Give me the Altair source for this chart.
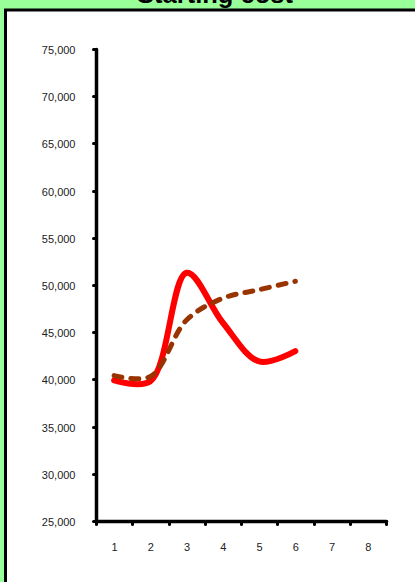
import altair as alt
import pandas as pd

title_text = "Starting cost"
categories = [1, 2, 3, 4, 5, 6, 7, 8]
periods = [1, 2, 3, 4, 5, 6]
red_values = [39900, 39800, 51300, 46000, 41900, 43000]
brown_values = [40400, 40300, 46300, 48600, 49500, 50400]
y_ticks = [25000, 30000, 35000, 40000, 45000, 50000, 55000, 60000, 65000, 70000, 75000]

red_df = pd.DataFrame({"period": periods, "value": red_values})
brown_df = pd.DataFrame({"period": periods, "value": brown_values})

FONT = "Liberation Sans"

x_enc = alt.X(
    "period:O",
    bandPosition=0.5,
    scale=alt.Scale(type="band", domain=categories, paddingInner=0, paddingOuter=0),
    axis=alt.Axis(
        title=None, labelAngle=0, domainColor="black", domainWidth=3.5, domainCap="round",
        tickColor="black", tickSize=3, tickWidth=3, tickCap="round", tickBand="extent",
        labelFont=FONT, labelFontSize=11, labelColor="#222222", labelPadding=17,
        grid=False, zindex=1,
    ),
)
y_enc = alt.Y(
    "value:Q",
    scale=alt.Scale(domain=[25000, 75000], nice=False, zero=False),
    axis=alt.Axis(
        title=None, values=y_ticks, format=",.0f", grid=False, domainColor="black",
        domainWidth=3.5, domainCap="round", tickColor="black", tickSize=3, tickWidth=3,
        tickCap="round", labelFont=FONT, labelFontSize=11, labelColor="#222222",
        labelPadding=18, labelOffset=1.5, zindex=1,
    ),
)

panel = alt.Chart(pd.DataFrame({"a": [0]})).mark_rect(
    fill="white", stroke="black", strokeWidth=3
).encode(
    x=alt.value(-90.5), x2=alt.value(335), y=alt.value(-39), y2=alt.value(545)
)

title = alt.Chart(pd.DataFrame({"t": [title_text]})).mark_text(
    font=FONT, fontSize=25.5, fontWeight="bold", color="black",
    align="center", baseline="alphabetic"
).encode(text="t:N", x=alt.value(119), y=alt.value(-46))

red_line = alt.Chart(red_df).mark_line(
    color="#FF0000", strokeWidth=6, interpolate="catmull-rom", strokeCap="round"
).encode(x=x_enc, y=y_enc)

brown_line = alt.Chart(brown_df).mark_line(
    color="#993300", strokeWidth=5, interpolate="catmull-rom", strokeDash=[8, 9], strokeCap="round"
).encode(x=x_enc, y=y_enc)

chart = alt.layer(panel, red_line, brown_line, title).properties(
    width=290, height=472,
    autosize=alt.AutoSizeParams(type="none"),
    padding={"left": 96, "top": 49, "right": 29, "bottom": 61},
    background="#99FF99",
).configure_view(stroke=None)

chart.save("out.html", embed_options={"renderer": "svg", "actions": False})
